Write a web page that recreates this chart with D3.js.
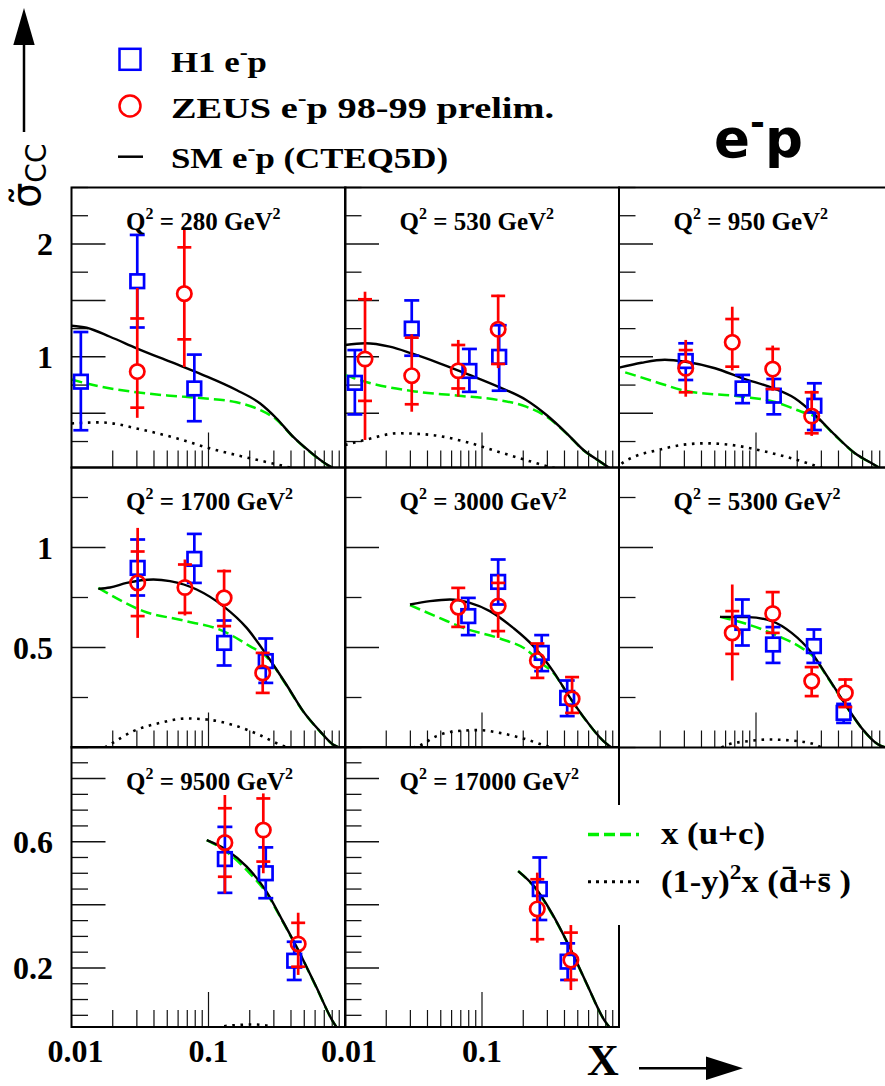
<!DOCTYPE html>
<html>
<head>
<meta charset="utf-8">
<script src="https://cdn.jsdelivr.net/npm/d3@7"></script>
<style>
  html, body { margin: 0; padding: 0; background: #fff; }
  svg { display: block; }
  text { font-family: "Liberation Serif", "Times New Roman", serif; font-weight: bold; fill: #000; }
</style>
</head>
<body>
<svg id="chart" width="885" height="1086"></svg>
<script>
// ---- Q^2 bins (GeV^2), one panel each ----
const q2Bins = [280, 530, 950, 1700, 3000, 5300, 9500, 17000];

// ---- H1 e-p reduced CC cross section: x, value, upper and lower end of total error ----
const h1_280   = [{x:0.0117,y:0.78,hi:1.22,lo:0.35},{x:0.0302,y:1.67,hi:2.08,lo:1.26},{x:0.0788,y:0.72,hi:1.02,lo:0.43}];
const h1_530   = [{x:0.0118,y:0.77,hi:1.06,lo:0.49},{x:0.0307,y:1.25,hi:1.50,lo:1.01},{x:0.0809,y:0.875,hi:1.07,lo:0.69},{x:0.1335,y:1.00,hi:1.28,lo:0.70}];
const h1_950   = [{x:0.0307,y:0.963,hi:1.12,lo:0.795},{x:0.0798,y:0.72,hi:0.84,lo:0.59},{x:0.1349,y:0.656,hi:0.804,lo:0.491},{x:0.2667,y:0.567,hi:0.766,lo:0.352}];
const h1_1700  = [{x:0.0304,y:0.898,hi:1.04,lo:0.76},{x:0.0788,y:0.943,hi:1.068,lo:0.823},{x:0.130,y:0.523,hi:0.635,lo:0.41},{x:0.2618,y:0.432,hi:0.545,lo:0.323}];
const h1_3000  = [{x:0.0794,y:0.657,hi:0.748,lo:0.562},{x:0.1312,y:0.828,hi:0.94,lo:0.715},{x:0.2728,y:0.473,hi:0.562,lo:0.382},{x:0.4186,y:0.248,hi:0.335,lo:0.157}];
const h1_5300  = [{x:0.0795,y:0.623,hi:0.74,lo:0.51},{x:0.1331,y:0.515,hi:0.602,lo:0.423},{x:0.2646,y:0.507,hi:0.59,lo:0.423},{x:0.4362,y:0.173,hi:0.218,lo:0.123}];
const h1_9500  = [{x:0.1317,y:0.545,hi:0.647,lo:0.438},{x:0.2618,y:0.50,hi:0.582,lo:0.421},{x:0.4224,y:0.223,hi:0.283,lo:0.162}];
const h1_17000 = [{x:0.2642,y:0.45,hi:0.55,lo:0.352},{x:0.4217,y:0.22,hi:0.278,lo:0.162}];

// ---- ZEUS e-p 98-99 preliminary: x, value, statistical and total error ends ----
const zeus_280   = [{x:0.0302,y:0.87,sHi:1.34,sLo:0.55,tHi:1.61,tLo:0.46},{x:0.0666,y:1.56,sHi:1.97,sLo:1.155,tHi:2.14,tLo:0.91}];
const zeus_530   = [{x:0.0140,y:0.981,sHi:1.51,sLo:0.61,tHi:1.577,tLo:0.264},{x:0.0307,y:0.833,sHi:1.17,sLo:0.58,tHi:1.2,tLo:0.514},{x:0.0671,y:0.877,sHi:1.105,sLo:0.72,tHi:1.15,tLo:0.647},{x:0.1312,y:1.244,sHi:1.54,sLo:0.937,tHi:1.55,tLo:0.9}];
const zeus_950   = [{x:0.0307,y:0.899,sHi:1.06,sLo:0.686,tHi:1.15,tLo:0.647},{x:0.0671,y:1.129,sHi:1.335,sLo:0.913,tHi:1.444,tLo:0.88},{x:0.1324,y:0.892,sHi:1.07,sLo:0.715,tHi:1.1,tLo:0.70},{x:0.2550,y:0.476,sHi:0.686,sLo:0.323,tHi:0.70,tLo:0.30}];
const zeus_1700  = [{x:0.0304,y:0.823,sHi:0.98,sLo:0.657,tHi:1.098,tLo:0.548},{x:0.0673,y:0.80,sHi:0.915,sLo:0.673,tHi:0.94,tLo:0.66},{x:0.1300,y:0.748,sHi:0.882,sLo:0.607,tHi:0.89,tLo:0.60},{x:0.2487,y:0.373,sHi:0.473,sLo:0.273,tHi:0.475,tLo:0.27}];
const zeus_3000  = [{x:0.0671,y:0.702,sHi:0.798,sLo:0.603,tHi:0.80,tLo:0.60},{x:0.1312,y:0.707,sHi:0.823,sLo:0.582,tHi:0.865,tLo:0.548},{x:0.2536,y:0.435,sHi:0.52,sLo:0.348,tHi:0.52,tLo:0.345},{x:0.4545,y:0.243,sHi:0.352,sLo:0.173,tHi:0.355,tLo:0.17}];
const zeus_5300  = [{x:0.0671,y:0.573,sHi:0.682,sLo:0.468,tHi:0.815,tLo:0.335},{x:0.1324,y:0.67,sHi:0.777,sLo:0.573,tHi:0.78,tLo:0.57},{x:0.2550,y:0.332,sHi:0.402,sLo:0.257,tHi:0.405,tLo:0.255},{x:0.4487,y:0.273,sHi:0.34,sLo:0.202,tHi:0.345,tLo:0.20}];
const zeus_9500  = [{x:0.1317,y:0.597,sHi:0.706,sLo:0.489,tHi:0.748,tLo:0.436},{x:0.2512,y:0.637,sHi:0.737,sLo:0.537,tHi:0.753,tLo:0.50},{x:0.4514,y:0.276,sHi:0.343,sLo:0.204,tHi:0.375,tLo:0.178}];
const zeus_17000 = [{x:0.2532,y:0.387,sHi:0.481,sLo:0.291,tHi:0.502,tLo:0.28},{x:0.4454,y:0.225,sHi:0.312,sLo:0.162,tHi:0.336,tLo:0.13}];

// ---- Standard Model expectation, CTEQ5D (x, value) ----
const sm_280   = [[0.01,1.276],[0.0129,1.258],[0.0191,1.178],[0.0299,1.076],[0.0524,0.957],[0.0915,0.839],[0.160,0.706],[0.237,0.589],[0.313,0.456],[0.414,0.293],[0.550,0.160],[0.727,0.048],[0.86,0.0]];
const sm_530   = [[0.01,1.105],[0.014,1.12],[0.0212,1.09],[0.0307,1.03],[0.049,0.943],[0.081,0.84],[0.131,0.736],[0.21,0.618],[0.296,0.485],[0.415,0.323],[0.55,0.175],[0.73,0.071],[0.89,0.0]];
const sm_950   = [[0.01,0.904],[0.0146,0.948],[0.0216,0.975],[0.0307,0.957],[0.0502,0.899],[0.08,0.81],[0.135,0.72],[0.192,0.633],[0.27,0.485],[0.377,0.308],[0.528,0.146],[0.70,0.057],[0.84,0.0]];
const sm_1700  = [[0.0157,0.793],[0.0191,0.80],[0.0253,0.823],[0.0396,0.84],[0.0524,0.832],[0.0819,0.79],[0.128,0.707],[0.19,0.598],[0.264,0.465],[0.37,0.315],[0.49,0.182],[0.65,0.082],[0.81,0.015],[0.9,0.0]];
const sm_3000  = [[0.0298,0.715],[0.0417,0.732],[0.0584,0.74],[0.0816,0.723],[0.114,0.682],[0.169,0.598],[0.237,0.507],[0.33,0.382],[0.44,0.248],[0.58,0.132],[0.77,0.032],[0.88,0.0]];
const sm_5300  = [[0.0546,0.653],[0.0879,0.652],[0.13,0.632],[0.182,0.573],[0.255,0.473],[0.337,0.348],[0.449,0.215],[0.59,0.098],[0.78,0.015],[0.88,0.0]];
const sm_9500  = [[0.0971,0.605],[0.1355,0.574],[0.19,0.521],[0.265,0.442],[0.35,0.347],[0.465,0.246],[0.61,0.141],[0.81,0.03],[0.9,0.0]];
const sm_17000 = [[0.1836,0.507],[0.242,0.457],[0.324,0.373],[0.435,0.267],[0.58,0.151],[0.78,0.035],[0.9,0.0]];

// ---- x (u+c) contribution ----
const uc_280   = [[0.01,0.80],[0.0144,0.75],[0.0299,0.686],[0.0524,0.656],[0.0915,0.633],[0.160,0.598],[0.237,0.53],[0.313,0.445],[0.414,0.29],[0.550,0.158],[0.727,0.047],[0.86,0.0]];
const uc_530   = [[0.01,0.84],[0.014,0.78],[0.0307,0.698],[0.0671,0.656],[0.131,0.618],[0.21,0.559],[0.296,0.47],[0.415,0.32],[0.55,0.173],[0.73,0.070],[0.89,0.0]];
const uc_950   = [[0.0111,0.863],[0.0183,0.78],[0.0307,0.698],[0.08,0.647],[0.135,0.603],[0.215,0.514],[0.27,0.47],[0.377,0.305],[0.528,0.145],[0.70,0.056],[0.84,0.0]];
const uc_1700  = [[0.0157,0.798],[0.0196,0.76],[0.0334,0.682],[0.0654,0.635],[0.128,0.582],[0.2,0.507],[0.264,0.455],[0.37,0.312],[0.49,0.181],[0.65,0.081],[0.81,0.015],[0.9,0.0]];
const uc_3000  = [[0.0298,0.712],[0.049,0.648],[0.073,0.598],[0.135,0.545],[0.21,0.49],[0.28,0.415],[0.33,0.375],[0.44,0.246],[0.58,0.131],[0.77,0.032],[0.88,0.0]];
const uc_5300  = [[0.0546,0.653],[0.0879,0.615],[0.137,0.565],[0.215,0.498],[0.255,0.462],[0.337,0.345],[0.449,0.213],[0.59,0.097],[0.78,0.015],[0.88,0.0]];
const uc_9500  = [[0.0971,0.605],[0.1355,0.568],[0.19,0.51],[0.265,0.437],[0.35,0.345],[0.465,0.245],[0.61,0.140],[0.81,0.03],[0.9,0.0]];
const uc_17000 = [[0.1836,0.507],[0.242,0.455],[0.324,0.371],[0.435,0.266],[0.58,0.150],[0.78,0.035],[0.9,0.0]];

// ---- (1-y)^2 x (dbar+sbar) contribution ----
const ds_280   = [[0.01,0.41],[0.0161,0.42],[0.0334,0.352],[0.0585,0.279],[0.102,0.19],[0.179,0.116],[0.314,0.048],[0.46,0.0]];
const ds_530   = [[0.01,0.219],[0.014,0.264],[0.0244,0.323],[0.043,0.308],[0.075,0.249],[0.131,0.16],[0.23,0.071],[0.33,0.018],[0.4,0.0]];
const ds_950   = [[0.0095,0.0],[0.0102,0.042],[0.013,0.116],[0.0193,0.175],[0.0287,0.22],[0.0425,0.234],[0.066,0.22],[0.104,0.175],[0.164,0.116],[0.24,0.057],[0.30,0.018],[0.34,0.0]];
const ds_1700  = [[0.0175,0.0],[0.0191,0.015],[0.0283,0.082],[0.0443,0.123],[0.069,0.145],[0.097,0.14],[0.152,0.112],[0.237,0.062],[0.33,0.015],[0.38,0.0]];
const ds_3000  = [[0.031,0.0],[0.0343,0.007],[0.0466,0.057],[0.0653,0.082],[0.096,0.087],[0.135,0.073],[0.20,0.045],[0.296,0.007],[0.32,0.0]];
const ds_5300  = [[0.056,0.0],[0.063,0.015],[0.088,0.032],[0.123,0.04],[0.18,0.035],[0.27,0.015],[0.3,0.0]];
const ds_9500  = [[0.1,0.0],[0.125,0.014],[0.16,0.019],[0.21,0.021],[0.28,0.016],[0.33,0.0]];
const ds_17000 = [[0.19,0.0],[0.25,0.006],[0.32,0.0]];

// ---- y axis per row: domain, labelled ticks, long ticks, minor step ----
const rowDomains   = [[0.02, 2.5], [0, 1.4], [0.013, 0.9]];
const rowLabels    = [[1, 2], [0.5, 1], [0.2, 0.6]];
const rowLongTicks = [[0.5, 1, 1.5, 2], [0.5, 1], [0.2, 0.4, 0.6, 0.8]];
const rowMinorStep = [0.25, 0.25, 0.05];

// ---- x axis ticks ----
const xMinorTicks = [0.02,0.03,0.04,0.05,0.06,0.07,0.08,0.09,0.2,0.3,0.4,0.5,0.6,0.7,0.8,0.9];
const xMajorTicks = [0.1];
const xTickLabels = [{v:0.01, t:"0.01"}, {v:0.1, t:"0.1"}];

const h1Sets   = [h1_280, h1_530, h1_950, h1_1700, h1_3000, h1_5300, h1_9500, h1_17000];
const zeusSets = [zeus_280, zeus_530, zeus_950, zeus_1700, zeus_3000, zeus_5300, zeus_9500, zeus_17000];
const smSets   = [sm_280, sm_530, sm_950, sm_1700, sm_3000, sm_5300, sm_9500, sm_17000];
const ucSets   = [uc_280, uc_530, uc_950, uc_1700, uc_3000, uc_5300, uc_9500, uc_17000];
const dsSets   = [ds_280, ds_530, ds_950, ds_1700, ds_3000, ds_5300, ds_9500, ds_17000];

// ---- layout ----
const colLeft = [71.5, 345, 619];
const rowTop  = [187.5, 467.5, 747];
const panelW = 274, panelH = 280;
const BLUE = "#0000ff", RED = "#ff0000", GREEN = "#00f000";

const svg = d3.select("#chart");
const defs = svg.append("defs");

q2Bins.forEach((q2, i) => {
  const col = i % 3, row = Math.floor(i / 3);
  const L = colLeft[col], T = rowTop[row];
  const x = d3.scaleLog().domain([0.01, 1]).range([L, L + panelW]);
  const y = d3.scaleLinear().domain(rowDomains[row]).range([T + panelH, T]);

  const clipId = "clip" + i;
  defs.append("clipPath").attr("id", clipId)
    .append("rect").attr("x", L).attr("y", T).attr("width", panelW).attr("height", panelH);

  const g = svg.append("g").attr("class", "panel");

  // y ticks on the left edge
  const [d0, d1] = rowDomains[row];
  const step = rowMinorStep[row];
  const minor = d3.range(Math.ceil(d0 / step) * step, d1 + 1e-9, step)
    .filter(v => !rowLongTicks[row].some(t => Math.abs(t - v) < 1e-6));
  g.selectAll(".ymin").data(minor).join("line")
    .attr("x1", L).attr("x2", L + 16.5)
    .attr("y1", d => y(d)).attr("y2", d => y(d))
    .attr("stroke", "#111").attr("stroke-width", 1.3);
  g.selectAll(".ymaj").data(rowLongTicks[row]).join("line")
    .attr("x1", L).attr("x2", L + 34)
    .attr("y1", d => y(d)).attr("y2", d => y(d))
    .attr("stroke", "#111").attr("stroke-width", 1.5);

  // x ticks on the bottom edge
  g.selectAll(".xmin").data(xMinorTicks).join("line")
    .attr("x1", d => x(d)).attr("x2", d => x(d))
    .attr("y1", T + panelH).attr("y2", T + panelH - 17)
    .attr("stroke", "#111").attr("stroke-width", 1.2);
  g.selectAll(".xmaj").data(xMajorTicks).join("line")
    .attr("x1", d => x(d)).attr("x2", d => x(d))
    .attr("y1", T + panelH).attr("y2", T + panelH - 35)
    .attr("stroke", "#111").attr("stroke-width", 1.2);

  // theory curves
  const line = d3.line().x(d => x(d[0])).y(d => y(d[1])).curve(d3.curveMonotoneX);
  const cg = g.append("g").attr("clip-path", `url(#${clipId})`);
  cg.append("path").attr("d", line(dsSets[i])).attr("fill", "none")
    .attr("stroke", "#000").attr("stroke-width", 2.6).attr("stroke-dasharray", "2.6 5.6")
    .attr("stroke-linecap", "butt");
  cg.append("path").attr("d", line(ucSets[i])).attr("fill", "none")
    .attr("stroke", GREEN).attr("stroke-width", 2.5).attr("stroke-dasharray", "11 5");
  cg.append("path").attr("d", line(smSets[i])).attr("fill", "none")
    .attr("stroke", "#000").attr("stroke-width", 2.4);

  // H1 points: open squares with capped total errors
  const hs = 6.8;
  h1Sets[i].forEach(p => {
    const cx = x(p.x), cy = y(p.y), yh = y(p.hi), yl = y(p.lo);
    if (cy - hs > yh) g.append("line").attr("x1", cx).attr("x2", cx).attr("y1", cy - hs).attr("y2", yh)
      .attr("stroke", BLUE).attr("stroke-width", 2.7);
    if (yl > cy + hs) g.append("line").attr("x1", cx).attr("x2", cx).attr("y1", cy + hs).attr("y2", yl)
      .attr("stroke", BLUE).attr("stroke-width", 2.7);
    [yh, yl].forEach(yy => g.append("line").attr("x1", cx - 7.5).attr("x2", cx + 7.5)
      .attr("y1", yy).attr("y2", yy).attr("stroke", BLUE).attr("stroke-width", 2.7));
    g.append("rect").attr("x", cx - hs).attr("y", cy - hs).attr("width", 2 * hs).attr("height", 2 * hs)
      .attr("fill", "none").attr("stroke", BLUE).attr("stroke-width", 2.7);
  });

  // ZEUS points: open circles, ticks mark statistical error, line spans total error
  const r = 7.2;
  zeusSets[i].forEach(p => {
    const cx = x(p.x), cy = y(p.y);
    g.append("line").attr("x1", cx).attr("x2", cx).attr("y1", cy - r).attr("y2", y(p.tHi))
      .attr("stroke", RED).attr("stroke-width", 2.7);
    g.append("line").attr("x1", cx).attr("x2", cx).attr("y1", cy + r).attr("y2", y(p.tLo))
      .attr("stroke", RED).attr("stroke-width", 2.7);
    [p.sHi, p.sLo].forEach(v => g.append("line").attr("x1", cx - 7).attr("x2", cx + 7)
      .attr("y1", y(v)).attr("y2", y(v)).attr("stroke", RED).attr("stroke-width", 2.7));
    g.append("circle").attr("cx", cx).attr("cy", cy).attr("r", r)
      .attr("fill", "none").attr("stroke", RED).attr("stroke-width", 2.7);
  });

  // frame
  g.append("rect").attr("x", L).attr("y", T).attr("width", panelW).attr("height", panelH)
    .attr("fill", "none").attr("stroke", "#000").attr("stroke-width", 2);

  // panel title
  const tt = g.append("text").attr("x", L + 54.5).attr("y", T + 42.5).style("font-size", "25px");
  tt.append("tspan").text("Q");
  tt.append("tspan").attr("dy", -11).style("font-size", "16px").text("2");
  tt.append("tspan").attr("dy", 11).text(" = " + q2 + " GeV");
  tt.append("tspan").attr("dy", -11).style("font-size", "16px").text("2");

  // y labels on the first column
  if (col === 0) {
    g.selectAll(".ylab").data(rowLabels[row]).join("text")
      .attr("x", 53).attr("y", d => y(d) + 11.5).attr("text-anchor", "end")
      .style("font-size", "32px").text(d => d);
  }
  // x labels on the bottom row
  if (row === 2) {
    g.selectAll(".xlab").data(xTickLabels).join("text")
      .attr("x", d => x(d.v) + (d.v === 0.01 ? 4 : 0)).attr("y", 1062).attr("text-anchor", "middle")
      .style("font-size", "32px").text(d => d.t);
  }
});

// ---- legend, top left ----
const lg = svg.append("g");
lg.append("rect").attr("x", 119.5).attr("y", 48.8).attr("width", 21).attr("height", 21)
  .attr("fill", "none").attr("stroke", BLUE).attr("stroke-width", 2.5);
lg.append("circle").attr("cx", 130).attr("cy", 106).attr("r", 10.5)
  .attr("fill", "none").attr("stroke", RED).attr("stroke-width", 2.5);
lg.append("line").attr("x1", 118).attr("x2", 143).attr("y1", 156.7).attr("y2", 156.7)
  .attr("stroke", "#000").attr("stroke-width", 2.5);

function epText(sel, before, after) {
  sel.append("tspan").text(before + "e");
  sel.append("tspan").attr("dy", -13).style("font-size", "20px").text("-");
  sel.append("tspan").attr("dy", 13).text("p" + after);
}
const legendRows = [
  {y: 71.7, pre: "H1 ", post: "", w: 96},
  {y: 118.3, pre: "ZEUS ", post: " 98-99 prelim.", w: 383},
  {y: 168.3, pre: "SM ", post: " (CTEQ5D)", w: 277}
];
legendRows.forEach(d => {
  const t = lg.append("text").attr("x", 171).attr("y", d.y).style("font-size", "29px")
    .attr("textLength", d.w).attr("lengthAdjust", "spacingAndGlyphs");
  epText(t, d.pre, d.post);
});

// ---- big e-p tag ----
const big = svg.append("text").attr("x", 714).attr("y", 157)
  .style("font-family", "'DejaVu Sans', sans-serif").style("font-size", "53px");
big.append("tspan").text("e");
big.append("tspan").attr("dy", -22).style("font-size", "36px").text("-");
big.append("tspan").attr("dy", 22).text("p");

// ---- legend for the PDF contributions ----
const lg2 = svg.append("g");
lg2.append("rect").attr("x", 580).attr("y", 805).attr("width", 300).attr("height", 120).attr("fill", "#fff");
lg2.append("line").attr("x1", 588).attr("x2", 639).attr("y1", 834.5).attr("y2", 834.5)
  .attr("stroke", GREEN).attr("stroke-width", 3.5).attr("stroke-dasharray", "11 5");
lg2.append("line").attr("x1", 588).attr("x2", 639).attr("y1", 881.7).attr("y2", 881.7)
  .attr("stroke", "#000").attr("stroke-width", 3).attr("stroke-dasharray", "3 5");
lg2.append("text").attr("x", 661).attr("y", 843.5).style("font-size", "31px")
  .attr("textLength", 104).attr("lengthAdjust", "spacingAndGlyphs").text("x (u+c)");
const t2 = lg2.append("text").attr("x", 661).attr("y", 891.7).style("font-size", "31px")
  .attr("textLength", 190).attr("lengthAdjust", "spacingAndGlyphs");
t2.append("tspan").text("(1-y)");
t2.append("tspan").attr("dy", -13).style("font-size", "21px").text("2");
t2.append("tspan").attr("dy", 13).text("x (d\u0304+s\u0304 )");

// ---- axis titles with arrows ----
const ax = svg.append("g");
ax.append("line").attr("x1", 24).attr("x2", 24).attr("y1", 132).attr("y2", 40)
  .attr("stroke", "#000").attr("stroke-width", 2.5);
ax.append("path").attr("d", "M24,8 L13.3,45 L34.7,45 Z").attr("fill", "#000");
const yt = ax.append("text").attr("transform", "translate(40,208) rotate(-90)")
  .style("font-family", "'DejaVu Sans', sans-serif").style("font-weight", "normal").style("font-size", "40px");
yt.append("tspan").text("\u03C3\u0303");
yt.append("tspan").attr("dy", 6).style("font-size", "28px").text("CC");

ax.append("text").attr("x", 587).attr("y", 1075).style("font-size", "44px").text("X");
ax.append("line").attr("x1", 639).attr("x2", 710).attr("y1", 1068.3).attr("y2", 1068.3)
  .attr("stroke", "#000").attr("stroke-width", 2.5);
ax.append("path").attr("d", "M743,1068.3 L706,1056.6 L706,1080 Z").attr("fill", "#000");
</script>
</body>
</html>
